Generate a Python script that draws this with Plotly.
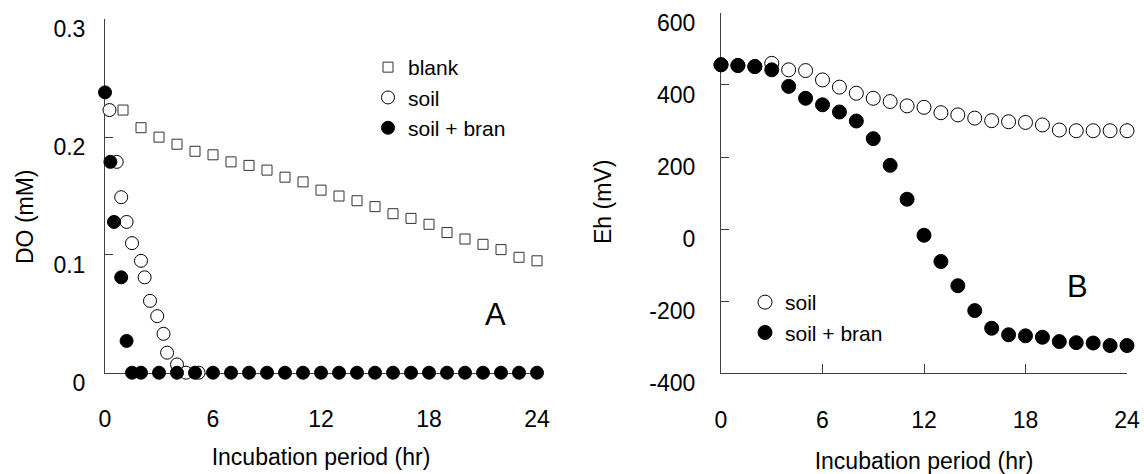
import plotly.graph_objects as go

# ---------------- data ----------------
# Panel A : dissolved oxygen (mM)
blank_hr = [1, 2, 3, 4, 5, 6, 7, 8, 9, 10, 11, 12, 13, 14, 15, 16, 17, 18, 19, 20, 21, 22, 23, 24]
blank_do = [0.223, 0.208, 0.200, 0.194, 0.188, 0.185, 0.179, 0.176, 0.172, 0.166, 0.162, 0.155,
            0.150, 0.146, 0.141, 0.135, 0.131, 0.126, 0.119, 0.1135, 0.109, 0.1045, 0.098, 0.095]

soilA_hr = [0.25, 0.65, 0.9, 1.2, 1.5, 2.0, 2.2, 2.5, 2.9, 3.25, 3.45, 4.0, 4.5, 5.2]
soilA_do = [0.223, 0.179, 0.149, 0.128, 0.110, 0.095, 0.081, 0.061, 0.048, 0.033, 0.017, 0.007, 0.0, 0.0]

branA_hr = [0, 0.3, 0.5, 0.9, 1.2, 1.5, 2, 3, 4, 5, 6, 7, 8, 9, 10, 11, 12, 13, 14, 15, 16,
            17, 18, 19, 20, 21, 22, 23, 24]
branA_do = [0.238, 0.179, 0.128, 0.081, 0.027, 0, 0, 0, 0, 0, 0, 0, 0, 0, 0, 0, 0, 0, 0, 0, 0,
            0, 0, 0, 0, 0, 0, 0, 0]

# Panel B : redox potential (mV)
hoursB = list(range(0, 25))
soilB_eh = [456, 454, 451, 460, 442, 440, 414, 394, 377, 363, 354, 342, 338, 323, 317, 308,
            301, 298, 296, 289, 275, 273, 273, 273, 273]
branB_eh = [456, 454, 451, 442, 396, 363, 345, 325, 300, 251, 177, 83, -17, -90, -157, -226,
            -275, -293, -296, -300, -312, -315, -316, -323, -323]

x_ticks = [0, 6, 12, 18, 24]
yA_ticks = [0, 0.1, 0.2, 0.3]
yA_text = ["0", "0.1", "0.2", "0.3"]
yB_ticks = [-400, -200, 0, 200, 400, 600]
yB_text = ["-400", "-200", "0", "200", "400", "600"]

# ---------------- figure ----------------
FONT = "Liberation Sans, Arial, sans-serif"
AX = "#404040"
W, H = 1144, 474
FS = 23
LFS = 21

fig = go.Figure()

fig.add_trace(go.Scatter(x=blank_hr, y=blank_do, mode="markers", name="blank",
                         marker=dict(symbol="square", size=10, color="white",
                                     line=dict(color="#333333", width=1)),
                         xaxis="x", yaxis="y", legend="legend", cliponaxis=False))
fig.add_trace(go.Scatter(x=soilA_hr, y=soilA_do, mode="markers", name="soil",
                         marker=dict(symbol="circle", size=13, color="white",
                                     line=dict(color="black", width=1)),
                         xaxis="x", yaxis="y", legend="legend", cliponaxis=False))
fig.add_trace(go.Scatter(x=branA_hr, y=branA_do, mode="markers", name="soil + bran",
                         marker=dict(symbol="circle", size=13, color="black",
                                     line=dict(color="black", width=1)),
                         xaxis="x", yaxis="y", legend="legend", cliponaxis=False))

fig.add_trace(go.Scatter(x=hoursB, y=soilB_eh, mode="markers", name="soil",
                         marker=dict(symbol="circle", size=14, color="white",
                                     line=dict(color="black", width=1)),
                         xaxis="x2", yaxis="y2", legend="legend2", cliponaxis=False))
fig.add_trace(go.Scatter(x=hoursB, y=branB_eh, mode="markers", name="soil + bran",
                         marker=dict(symbol="circle", size=14, color="black",
                                     line=dict(color="black", width=1)),
                         xaxis="x2", yaxis="y2", legend="legend2", cliponaxis=False))

def px_x(p):
    return p / W

def px_y(p):
    return 1 - p / H

common = dict(showgrid=False, zeroline=False, showline=True, linecolor=AX, linewidth=1,
              tickcolor=AX, tickfont=dict(family=FONT, size=FS, color="black"),
              title_font=dict(family=FONT, size=FS, color="black"), layer="below traces",
              automargin=False)

fig.update_layout(
    template="none",
    width=W, height=H,
    margin=dict(l=0, r=0, t=0, b=0, pad=0),
    paper_bgcolor="white", plot_bgcolor="white",
    font=dict(family=FONT, size=FS, color="black"),
    showlegend=True,
    hovermode=False,
    xaxis=dict(domain=[px_x(105), px_x(537)], range=[0, 24], anchor="y",
               tickvals=x_ticks, ticks="", ticklabelstandoff=26,
               title=dict(text="Incubation period (hr)", standoff=17), **common),
    yaxis=dict(domain=[px_y(372.7), px_y(19)], range=[0, 0.3003], anchor="x",
               tickvals=yA_ticks, ticktext=yA_text, ticks="inside", ticklen=8,
               ticklabelstandoff=14, ticklabelshift=10, **common),
    xaxis2=dict(domain=[px_x(721), px_x(1127)], range=[0, 24], anchor="y2",
                tickvals=x_ticks, ticks="inside", ticklen=9, ticklabelstandoff=26,
                title=dict(text="Incubation period (hr)", standoff=20), **common),
    yaxis2=dict(domain=[px_y(373.3), px_y(12.7)], range=[-400, 600.5], anchor="x2",
                tickvals=yB_ticks, ticktext=yB_text, ticks="inside", ticklen=8,
                ticklabelstandoff=20, ticklabelshift=10, **common),
    legend=dict(x=px_x(368), y=px_y(47), xanchor="left", yanchor="top",
                bgcolor="rgba(0,0,0,0)", borderwidth=0, tracegroupgap=0,
                font=dict(family=FONT, size=LFS, color="black"), itemsizing="trace"),
    legend2=dict(x=px_x(745), y=px_y(282), xanchor="left", yanchor="top",
                 bgcolor="rgba(0,0,0,0)", borderwidth=0, tracegroupgap=0,
                 font=dict(family=FONT, size=LFS, color="black"), itemsizing="trace"),
    annotations=[
        dict(text="DO (mM)", textangle=-90, x=px_x(25), y=px_y(217), xref="paper", yref="paper",
             xanchor="center", yanchor="middle",
             showarrow=False, font=dict(family=FONT, size=FS, color="black")),
        dict(text="Eh (mV)", textangle=-90, x=px_x(603), y=px_y(202), xref="paper", yref="paper",
             xanchor="center", yanchor="middle",
             showarrow=False, font=dict(family=FONT, size=FS, color="black")),
        dict(text="A", x=21.7, y=0.049, xref="x", yref="y", showarrow=False,
             font=dict(family=FONT, size=31, color="black")),
        dict(text="B", x=21.1, y=-160, xref="x2", yref="y2", showarrow=False,
             font=dict(family=FONT, size=31, color="black")),
    ],
)

fig.write_html("out.html", config={"displayModeBar": False},
               post_script="document.body.style.margin='0';document.body.style.padding='0';")
